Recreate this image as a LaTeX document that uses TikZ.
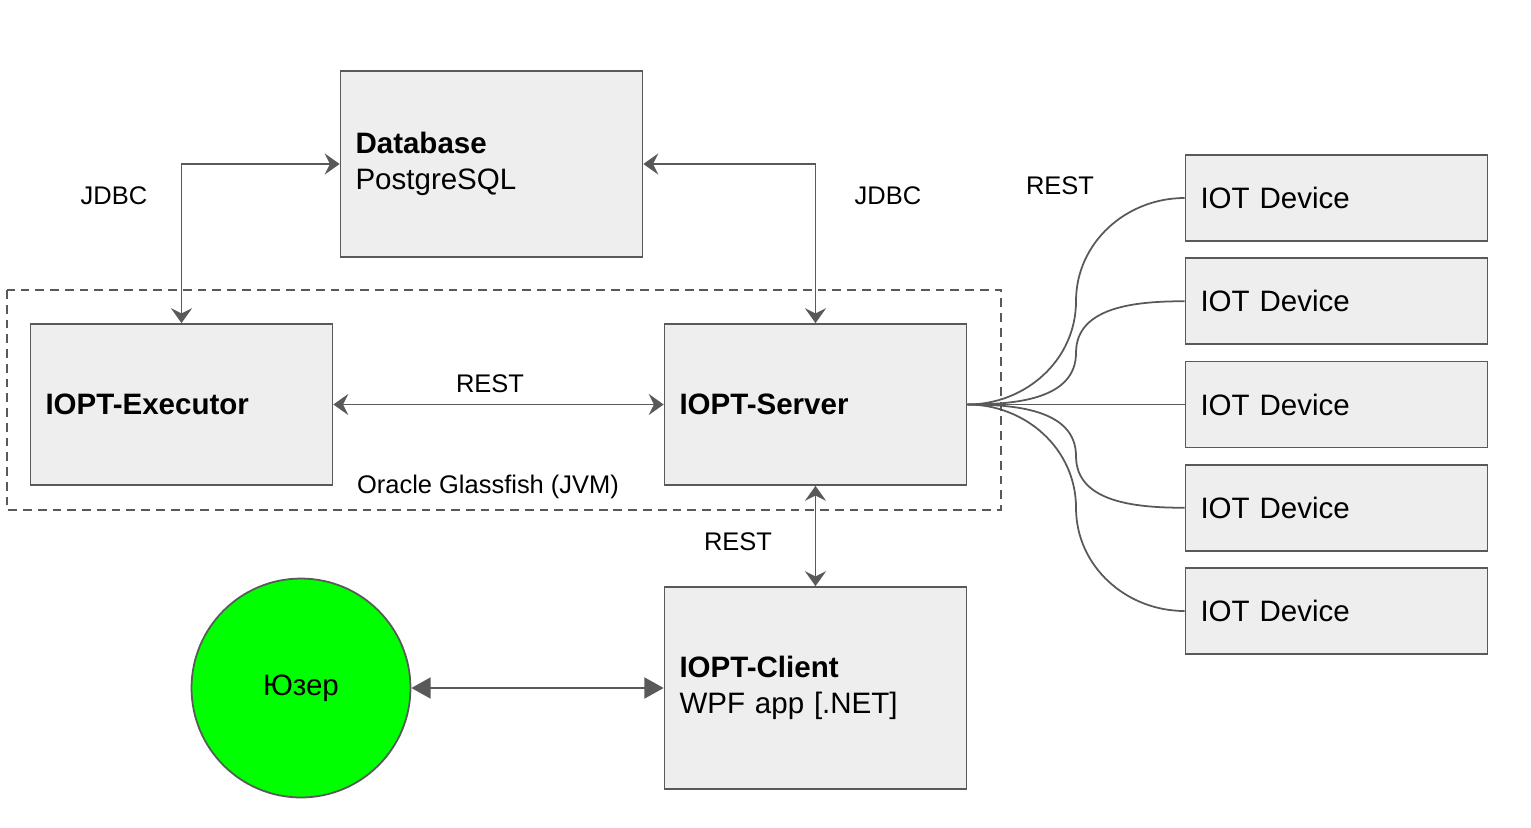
\documentclass[tikz,border=0pt]{standalone}
\usepackage{fontspec}
\setmainfont{Liberation Sans}
\usepackage{xcolor}
\usetikzlibrary{arrows.meta,calc}

\definecolor{linegray}{HTML}{595959}
\definecolor{boxgray}{HTML}{EEEEEE}
\definecolor{usergreen}{HTML}{00FF00}

\newcommand{\boxfont}{\fontsize{16.8}{20.4}\selectfont}
\newcommand{\labfont}{\fontsize{14.5}{17}\selectfont}

\tikzset{
  box/.style={draw=linegray, fill=boxgray, line width=1pt, rectangle,
    inner xsep=0.3cm, text width=5.44cm, align=left, minimum height=#1, font=\boxfont},
  lab/.style={font=\labfont},
  arr/.style={draw=linegray, line width=1pt, {Stealth[length=8.5pt,width=12pt,inset=3pt]}-{Stealth[length=8.5pt,width=12pt,inset=3pt]}},
  arrbig/.style={draw=linegray, line width=1pt, {Triangle[length=11pt,width=12pt]}-{Triangle[length=11pt,width=12pt]}},
  link/.style={draw=linegray, line width=1pt}
}

\begin{document}
\begin{tikzpicture}[x=0.02cm, y=-0.02cm]
        \useasboundingbox (0,0) rectangle (1531,828);

        % JVM container
        \draw[linegray, line width=1pt, dash pattern=on 5pt off 3.4pt] (7,290) rectangle (1001,510);

        % Boxes
        \node[box=3.72cm] (db) at (491.5,164) {\textbf{Database}\\PostgreSQL};
        \node[box=3.22cm] (exec) at (181.5,404.5) {\textbf{IOPT-Executor}};
        \node[box=3.22cm] (srv) at (815.5,404.5) {\textbf{IOPT-Server}};
        \node[box=4.04cm] (cli) at (815.5,688) {\textbf{IOPT-Client}\\WPF app [.NET]};

        % User
        \node[draw=linegray, fill=usergreen, line width=1pt, circle, minimum size=4.38cm, font=\boxfont] (user) at (301,688) {Юзер};

        % IOT devices
        \foreach \i in {1,...,5}
            \node[box=1.72cm] (iot\i) at (1336.5,94.75+103.25*\i) {IOT Device};

        % Labels
        \node[lab] (jdbcl) at (114,196) {JDBC};
        \node[lab] (jdbcr) at (888,196) {JDBC};
        \node[lab] (restiot) at (1060,186) {REST};
        \node[lab] (restexec) at (490,384) {REST};
        \node[lab] (jvm) at (488,487) {Oracle Glassfish (JVM)};
        \node[lab] (restcli) at (738,542) {REST};

        % Connections
        \draw[arr] (exec.north) |- (db.west);
        \draw[arr] (db.east) -| (srv.north);
        \draw[arr] (exec) -- (srv);
        \draw[arr] (srv) -- (cli);
        \draw[arrbig] (user) -- (cli);

        % Server to devices
        \draw[link] (srv.east) to[out=0,in=-90] ($(srv.east)!0.5!(iot1.west)$) to[out=90,in=180] (iot1.west);
        \draw[link] (srv.east) to[out=0,in=-90] ($(srv.east)!0.5!(iot2.west)$) to[out=90,in=180] (iot2.west);
        \draw[link] (srv.east) -- (iot3.west);
        \draw[link] (srv.east) to[out=0,in=90] ($(srv.east)!0.5!(iot4.west)$) to[out=-90,in=180] (iot4.west);
        \draw[link] (srv.east) to[out=0,in=90] ($(srv.east)!0.5!(iot5.west)$) to[out=-90,in=180] (iot5.west);
    \end{tikzpicture}
\end{document}
